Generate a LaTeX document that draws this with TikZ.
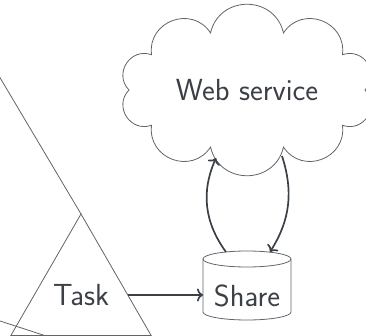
\documentclass[tikz,border=0pt]{standalone}
\usetikzlibrary{shapes.geometric,arrows.meta}
\definecolor{txt}{HTML}{3B3F46}
\definecolor{edge}{HTML}{60646B}
\tikzset{
  shapeline/.style={draw=edge, line width=0.8pt},
  lbl/.style={text=txt, font=\fontsize{30.5}{36}\selectfont\sffamily},
  conn/.style={draw=txt, line width=1.7pt, -{To[length=6pt,width=13pt]}},
  puff/.style={bend right=77, looseness=1.38},
}
\begin{document}
\begin{tikzpicture}[x=1pt,y=1pt]
\clip (0,0) rectangle (366,-336);
% Task triangle
\node[shapeline, lbl, regular polygon, regular polygon sides=3, minimum size=162pt, inner sep=0pt, outer sep=0pt] (task) at (81,-295) {Task};
% lines from shapes outside the view
\coordinate (offA) at (-20,-44);
\coordinate (offB) at (-20,-314.5);
\coordinate (offC) at (60,-340.5);
\draw[shapeline] (offA) -- (task.corner 1);
\draw[shapeline] (offB) -- (offC);
% Share cylinder
\node[minimum width=88pt, minimum height=69pt, inner sep=0pt, outer sep=0pt] (share) at (247,-285.5) {};
\draw[shapeline] (203,-259) -- (203,-312) arc[start angle=180, end angle=360, x radius=44, y radius=8] -- (291,-259);
\draw[shapeline] (247,-259) ellipse [x radius=44, y radius=8];
\node[lbl] at ([yshift=-10pt]share.center) {Share};
% Web service cloud
\node[lbl, ellipse, minimum width=236pt, minimum height=120pt, inner sep=0pt] (web) at (247,-90) {Web service};
\draw[shapeline, shift={(web.center)}] (0:118 and 60)
  \foreach \k in {1,...,9} { to[puff] (\k*36:118 and 60) } to[puff] cycle;
\coordinate (webin) at (216,-158);
\coordinate (webout) at (282,-156);
% connectors
\draw[conn] (task.east) -- (task.east -| share.west);
\draw[conn] ([xshift=-21pt,yshift=-1pt]share.north) to[bend left=30] (webin);
\draw[conn] (webout) to[bend left=25] ([xshift=23pt,yshift=-1pt]share.north);
\end{tikzpicture}
\end{document}
